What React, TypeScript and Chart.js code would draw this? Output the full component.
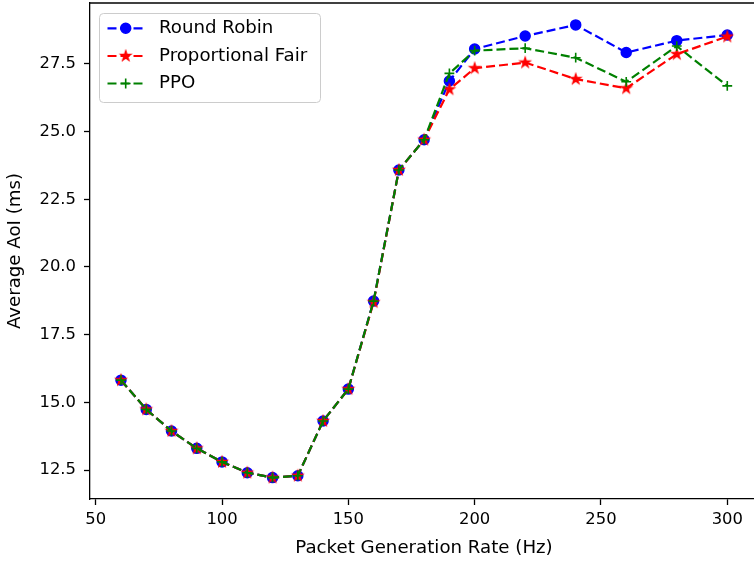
import React, { useEffect, useRef } from 'react';
import { Chart, registerables } from 'chart.js';

Chart.register(...registerables);

// ---- data ----
const rates = [60, 70, 80, 90, 100, 110, 120, 130, 140, 150, 160, 170, 180, 190, 200, 220, 240, 260, 280, 300];
const roundRobin = [15.82, 14.74, 13.94, 13.30, 12.80, 12.40, 12.22, 12.29, 14.31, 15.49, 18.74, 23.58, 24.70, 26.87, 28.05, 28.53, 28.94, 27.92, 28.36, 28.57];
const proportionalFair = [15.82, 14.74, 13.94, 13.30, 12.80, 12.40, 12.22, 12.29, 14.31, 15.49, 18.70, 23.58, 24.70, 26.56, 27.34, 27.55, 26.94, 26.60, 27.86, 28.51];
const ppoValues = [15.82, 14.74, 13.94, 13.30, 12.80, 12.40, 12.22, 12.29, 14.31, 15.49, 18.74, 23.58, 24.70, 27.15, 27.99, 28.08, 27.73, 26.84, 28.16, 26.69];
const seriesLabels = ['Round Robin', 'Proportional Fair', 'PPO'];
const xTicks = [50, 100, 150, 200, 250, 300];
const yTicks = [12.5, 15.0, 17.5, 20.0, 22.5, 25.0, 27.5];

const FONT = 'DejaVu Sans';
const FS_TICK = 16.4;
const FS_LABEL = 18.2;
const DASH = [9, 4];
const LW = 2.2;
const CANVAS_W = 758;
const CANVAS_H = 567;

function makeStar(color: string): HTMLCanvasElement {
  const c = document.createElement('canvas');
  c.width = 20;
  c.height = 20;
  const ctx = c.getContext('2d')!;
  const R = 4.9;
  const r = R * 0.381966;
  ctx.beginPath();
  for (let i = 0; i < 10; i++) {
    const rad = i % 2 === 0 ? R : r;
    const a = -Math.PI / 2 + (i * Math.PI) / 5;
    const x = 10 + rad * Math.cos(a);
    const y = 10 + rad * Math.sin(a);
    if (i === 0) ctx.moveTo(x, y);
    else ctx.lineTo(x, y);
  }
  ctx.closePath();
  ctx.fillStyle = color;
  ctx.fill();
  ctx.lineWidth = 1.5;
  ctx.strokeStyle = color;
  ctx.lineJoin = 'miter';
  ctx.stroke();
  return c;
}

const frameAndLegend = {
  id: 'frameAndLegend',
  afterDraw(chart: any) {
    const { ctx, chartArea } = chart;
    ctx.save();
    // top spine
    ctx.strokeStyle = '#000';
    ctx.lineWidth = 1.3;
    ctx.beginPath();
    ctx.moveTo(chartArea.left, chartArea.top);
    ctx.lineTo(chartArea.right, chartArea.top);
    ctx.stroke();

    // legend box
    const bx = 99.5, by = 13.5, bw = 221, bh = 89, rr = 4;
    ctx.beginPath();
    ctx.moveTo(bx + rr, by);
    ctx.lineTo(bx + bw - rr, by);
    ctx.quadraticCurveTo(bx + bw, by, bx + bw, by + rr);
    ctx.lineTo(bx + bw, by + bh - rr);
    ctx.quadraticCurveTo(bx + bw, by + bh, bx + bw - rr, by + bh);
    ctx.lineTo(bx + rr, by + bh);
    ctx.quadraticCurveTo(bx, by + bh, bx, by + bh - rr);
    ctx.lineTo(bx, by + rr);
    ctx.quadraticCurveTo(bx, by, bx + rr, by);
    ctx.closePath();
    ctx.fillStyle = 'rgba(255,255,255,0.8)';
    ctx.fill();
    ctx.strokeStyle = '#cccccc';
    ctx.lineWidth = 1;
    ctx.stroke();

    const rows = [28.3, 56, 83.5];
    chart.data.datasets.forEach((ds: any, i: number) => {
      const y = rows[i];
      const color = ds.borderColor;
      ctx.setLineDash(DASH);
      ctx.lineWidth = LW;
      ctx.strokeStyle = color;
      ctx.beginPath();
      ctx.moveTo(107.5, y);
      ctx.lineTo(144, y);
      ctx.stroke();
      ctx.setLineDash([]);
      const mx = 125.7;
      if (ds.pointStyle === 'circle') {
        ctx.beginPath();
        ctx.arc(mx, y, 5, 0, Math.PI * 2);
        ctx.fillStyle = color;
        ctx.fill();
        ctx.lineWidth = 1.5;
        ctx.stroke();
      } else if (ds.pointStyle === 'cross') {
        ctx.lineWidth = 1.6;
        ctx.beginPath();
        ctx.moveTo(mx - 4.9, y);
        ctx.lineTo(mx + 4.9, y);
        ctx.moveTo(mx, y - 4.9);
        ctx.lineTo(mx, y + 4.9);
        ctx.stroke();
      } else {
        const img = ds.pointStyle as HTMLCanvasElement;
        ctx.drawImage(img, mx - img.width / 2, y - img.height / 2);
      }
      ctx.fillStyle = '#000';
      ctx.font = `${FS_LABEL}px "${FONT}"`;
      ctx.textBaseline = 'middle';
      ctx.textAlign = 'left';
      ctx.fillText(ds.label, 159, y);
    });
    ctx.restore();
  },
};

export default function App() {
  const ref = useRef<HTMLCanvasElement | null>(null);

  useEffect(() => {
    if (!ref.current) return;
    const star = makeStar('#ff0000');
    const mk = (vals: number[]) => rates.map((x, i) => ({ x, y: vals[i] }));
    const chart = new Chart(ref.current, {
      type: 'line',
      data: {
        datasets: [
          {
            label: seriesLabels[0],
            data: mk(roundRobin),
            borderColor: '#0000ff',
            backgroundColor: '#0000ff',
            borderWidth: LW,
            borderDash: DASH,
            pointStyle: 'circle',
            pointRadius: 5,
            pointBorderWidth: 1.5,
            pointBackgroundColor: '#0000ff',
            pointBorderColor: '#0000ff',
            fill: false,
            tension: 0,
            order: 3,
          },
          {
            label: seriesLabels[1],
            data: mk(proportionalFair),
            borderColor: '#ff0000',
            backgroundColor: '#ff0000',
            borderWidth: LW,
            borderDash: DASH,
            pointStyle: star as any,
            pointRadius: 5,
            fill: false,
            tension: 0,
            order: 2,
          },
          {
            label: seriesLabels[2],
            data: mk(ppoValues),
            borderColor: '#008000',
            backgroundColor: '#008000',
            borderWidth: LW,
            borderDash: DASH,
            pointStyle: 'cross',
            pointRadius: 4.9,
            pointBorderWidth: 1.6,
            pointBorderColor: '#008000',
            fill: false,
            tension: 0,
            order: 1,
          },
        ],
      },
      options: {
        animation: false,
        responsive: false,
        maintainAspectRatio: false,
        devicePixelRatio: 1,
        layout: { autoPadding: false, padding: { top: 3, left: 0, right: 0, bottom: 0 } },
        plugins: {
          legend: { display: false },
          tooltip: { enabled: false },
        },
        scales: {
          x: {
            type: 'linear',
            min: 47.74,
            max: 312.16,
            afterBuildTicks: (scale: any) => {
              scale.ticks = xTicks.map((v) => ({ value: v }));
            },
            afterFit: (scale: any) => {
              scale.height = 68;
              scale.paddingLeft = 0;
              scale.paddingRight = 0;
            },
            ticks: {
              color: '#000',
              font: { family: FONT, size: FS_TICK },
              padding: 5,
              maxRotation: 0,
              autoSkip: false,
              callback: (v: any) => String(v),
            },
            grid: {
              drawOnChartArea: false,
              drawTicks: true,
              tickLength: 6,
              tickWidth: 1.3,
              tickColor: '#000',
            },
            border: { display: true, color: '#000', width: 1.3 },
            title: {
              display: true,
              text: 'Packet Generation Rate (Hz)',
              color: '#000',
              font: { family: FONT, size: FS_LABEL },
              padding: { top: 0, bottom: 8 },
            },
          },
          y: {
            type: 'linear',
            min: 11.43,
            max: 29.75,
            afterBuildTicks: (scale: any) => {
              scale.ticks = yTicks.map((v) => ({ value: v }));
            },
            afterFit: (scale: any) => {
              scale.width = 90;
              scale.paddingTop = 0;
              scale.paddingBottom = 0;
            },
            ticks: {
              color: '#000',
              font: { family: FONT, size: FS_TICK },
              padding: 8,
              autoSkip: false,
              callback: (v: any) => Number(v).toFixed(1),
            },
            grid: {
              drawOnChartArea: false,
              drawTicks: true,
              tickLength: 6,
              tickWidth: 1.3,
              tickColor: '#000',
            },
            border: { display: true, color: '#000', width: 1.3 },
            title: {
              display: true,
              text: 'Average AoI (ms)',
              color: '#000',
              font: { family: FONT, size: FS_LABEL },
              padding: { top: 4.5, bottom: 0 },
            },
          },
        },
      },
      plugins: [frameAndLegend],
    } as any);
    return () => chart.destroy();
  }, []);

  return (
    <div style={{ position: 'fixed', left: 0, top: 0, width: 754, height: 567, overflow: 'hidden', background: '#fff' }}>
      <canvas ref={ref} width={CANVAS_W} height={CANVAS_H} style={{ display: 'block', width: CANVAS_W, height: CANVAS_H }} />
    </div>
  );
}
